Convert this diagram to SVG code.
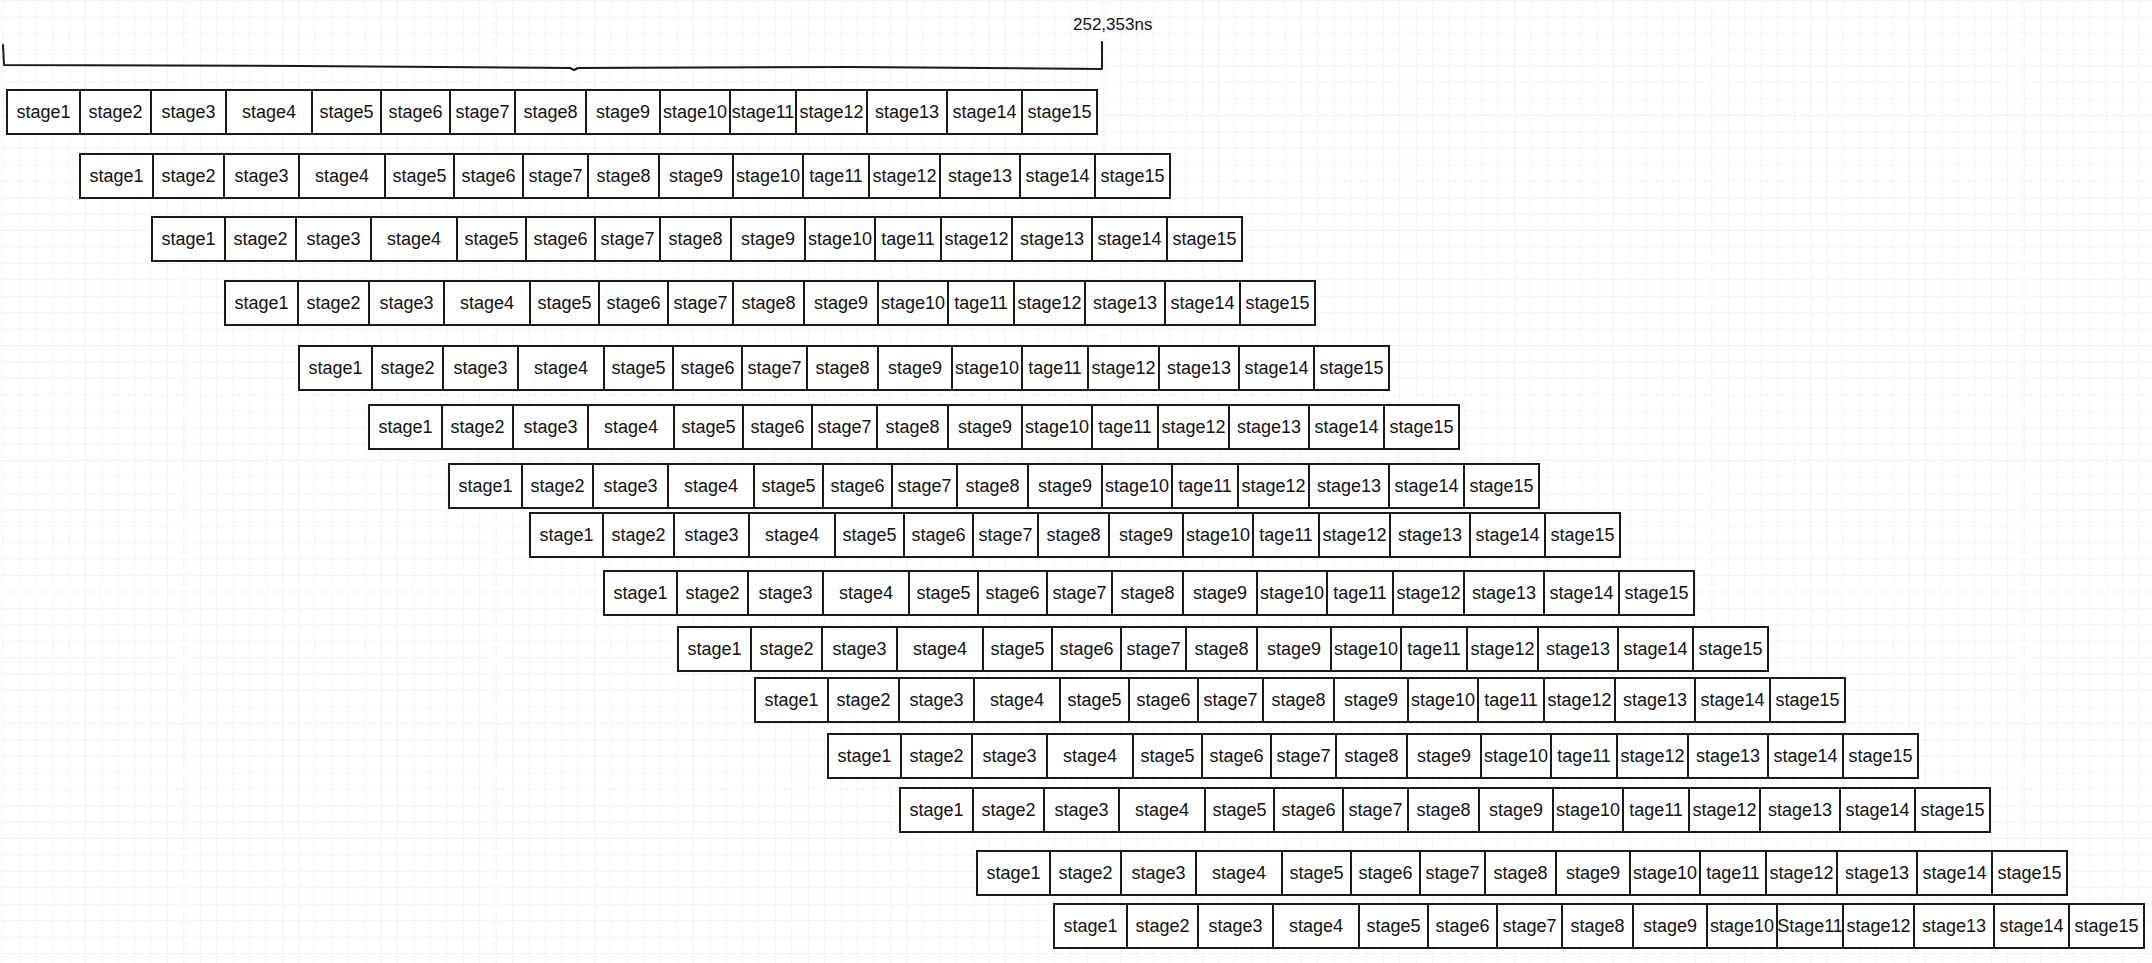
<svg xmlns="http://www.w3.org/2000/svg" width="2152" height="963" viewBox="0 0 2152 963">
<defs>
<pattern id="grid" width="16.43" height="16.43" x="2.7" y="0" patternUnits="userSpaceOnUse">
<path d="M0.5 0V16.43M0 0.5H16.43" fill="none" stroke="#f1f1f1" stroke-width="1"/>
</pattern>
<style>
rect{fill:#fff;stroke:#1a1a1a;stroke-width:2;}
text{font-family:"Liberation Sans",Arial,sans-serif;font-size:18px;fill:#111;text-anchor:middle;}
.lbl{font-size:17px;text-anchor:start;}
.brace{fill:none;stroke:#1a1a1a;stroke-width:2;stroke-linejoin:round;stroke-linecap:round;}
</style>
</defs>
<rect x="0" y="0" width="2152" height="963" style="fill:url(#grid);stroke:none"/>
<g id="connectors">
<path class="brace" d="M3 45 L4 65 L300 66 L570 68 L574 70 L578 68 L850 67 L1102 69 L1102 42"/>
</g>
<g id="label"><text class="lbl" x="1073" y="30">252,353ns</text></g>
<g id="row1" transform="translate(7,90)">
<g id="r1-1"><rect x="0" width="73" height="44"/><text x="36.5" y="28">stage1</text></g>
<g id="r1-2"><rect x="73" width="71" height="44"/><text x="108.5" y="28">stage2</text></g>
<g id="r1-3"><rect x="144" width="75" height="44"/><text x="181.5" y="28">stage3</text></g>
<g id="r1-4"><rect x="219" width="86" height="44"/><text x="262" y="28">stage4</text></g>
<g id="r1-5"><rect x="305" width="69" height="44"/><text x="339.5" y="28">stage5</text></g>
<g id="r1-6"><rect x="374" width="69" height="44"/><text x="408.5" y="28">stage6</text></g>
<g id="r1-7"><rect x="443" width="65" height="44"/><text x="475.5" y="28">stage7</text></g>
<g id="r1-8"><rect x="508" width="71" height="44"/><text x="543.5" y="28">stage8</text></g>
<g id="r1-9"><rect x="579" width="74" height="44"/><text x="616" y="28">stage9</text></g>
<g id="r1-10"><rect x="653" width="70" height="44"/><text x="688" y="28">stage10</text></g>
<g id="r1-11"><rect x="723" width="66" height="44"/><text x="756" y="28">stage11</text></g>
<g id="r1-12"><rect x="789" width="71" height="44"/><text x="824.5" y="28">stage12</text></g>
<g id="r1-13"><rect x="860" width="80" height="44"/><text x="900" y="28">stage13</text></g>
<g id="r1-14"><rect x="940" width="75" height="44"/><text x="977.5" y="28">stage14</text></g>
<g id="r1-15"><rect x="1015" width="75" height="44"/><text x="1052.5" y="28">stage15</text></g>
</g>
<g id="row2" transform="translate(80,154)">
<g id="r2-1"><rect x="0" width="73" height="44"/><text x="36.5" y="28">stage1</text></g>
<g id="r2-2"><rect x="73" width="71" height="44"/><text x="108.5" y="28">stage2</text></g>
<g id="r2-3"><rect x="144" width="75" height="44"/><text x="181.5" y="28">stage3</text></g>
<g id="r2-4"><rect x="219" width="86" height="44"/><text x="262" y="28">stage4</text></g>
<g id="r2-5"><rect x="305" width="69" height="44"/><text x="339.5" y="28">stage5</text></g>
<g id="r2-6"><rect x="374" width="69" height="44"/><text x="408.5" y="28">stage6</text></g>
<g id="r2-7"><rect x="443" width="65" height="44"/><text x="475.5" y="28">stage7</text></g>
<g id="r2-8"><rect x="508" width="71" height="44"/><text x="543.5" y="28">stage8</text></g>
<g id="r2-9"><rect x="579" width="74" height="44"/><text x="616" y="28">stage9</text></g>
<g id="r2-10"><rect x="653" width="70" height="44"/><text x="688" y="28">stage10</text></g>
<g id="r2-11"><rect x="723" width="66" height="44"/><text x="756" y="28">tage11</text></g>
<g id="r2-12"><rect x="789" width="71" height="44"/><text x="824.5" y="28">stage12</text></g>
<g id="r2-13"><rect x="860" width="80" height="44"/><text x="900" y="28">stage13</text></g>
<g id="r2-14"><rect x="940" width="75" height="44"/><text x="977.5" y="28">stage14</text></g>
<g id="r2-15"><rect x="1015" width="75" height="44"/><text x="1052.5" y="28">stage15</text></g>
</g>
<g id="row3" transform="translate(152,217)">
<g id="r3-1"><rect x="0" width="73" height="44"/><text x="36.5" y="28">stage1</text></g>
<g id="r3-2"><rect x="73" width="71" height="44"/><text x="108.5" y="28">stage2</text></g>
<g id="r3-3"><rect x="144" width="75" height="44"/><text x="181.5" y="28">stage3</text></g>
<g id="r3-4"><rect x="219" width="86" height="44"/><text x="262" y="28">stage4</text></g>
<g id="r3-5"><rect x="305" width="69" height="44"/><text x="339.5" y="28">stage5</text></g>
<g id="r3-6"><rect x="374" width="69" height="44"/><text x="408.5" y="28">stage6</text></g>
<g id="r3-7"><rect x="443" width="65" height="44"/><text x="475.5" y="28">stage7</text></g>
<g id="r3-8"><rect x="508" width="71" height="44"/><text x="543.5" y="28">stage8</text></g>
<g id="r3-9"><rect x="579" width="74" height="44"/><text x="616" y="28">stage9</text></g>
<g id="r3-10"><rect x="653" width="70" height="44"/><text x="688" y="28">stage10</text></g>
<g id="r3-11"><rect x="723" width="66" height="44"/><text x="756" y="28">tage11</text></g>
<g id="r3-12"><rect x="789" width="71" height="44"/><text x="824.5" y="28">stage12</text></g>
<g id="r3-13"><rect x="860" width="80" height="44"/><text x="900" y="28">stage13</text></g>
<g id="r3-14"><rect x="940" width="75" height="44"/><text x="977.5" y="28">stage14</text></g>
<g id="r3-15"><rect x="1015" width="75" height="44"/><text x="1052.5" y="28">stage15</text></g>
</g>
<g id="row4" transform="translate(225,281)">
<g id="r4-1"><rect x="0" width="73" height="44"/><text x="36.5" y="28">stage1</text></g>
<g id="r4-2"><rect x="73" width="71" height="44"/><text x="108.5" y="28">stage2</text></g>
<g id="r4-3"><rect x="144" width="75" height="44"/><text x="181.5" y="28">stage3</text></g>
<g id="r4-4"><rect x="219" width="86" height="44"/><text x="262" y="28">stage4</text></g>
<g id="r4-5"><rect x="305" width="69" height="44"/><text x="339.5" y="28">stage5</text></g>
<g id="r4-6"><rect x="374" width="69" height="44"/><text x="408.5" y="28">stage6</text></g>
<g id="r4-7"><rect x="443" width="65" height="44"/><text x="475.5" y="28">stage7</text></g>
<g id="r4-8"><rect x="508" width="71" height="44"/><text x="543.5" y="28">stage8</text></g>
<g id="r4-9"><rect x="579" width="74" height="44"/><text x="616" y="28">stage9</text></g>
<g id="r4-10"><rect x="653" width="70" height="44"/><text x="688" y="28">stage10</text></g>
<g id="r4-11"><rect x="723" width="66" height="44"/><text x="756" y="28">tage11</text></g>
<g id="r4-12"><rect x="789" width="71" height="44"/><text x="824.5" y="28">stage12</text></g>
<g id="r4-13"><rect x="860" width="80" height="44"/><text x="900" y="28">stage13</text></g>
<g id="r4-14"><rect x="940" width="75" height="44"/><text x="977.5" y="28">stage14</text></g>
<g id="r4-15"><rect x="1015" width="75" height="44"/><text x="1052.5" y="28">stage15</text></g>
</g>
<g id="row5" transform="translate(299,346)">
<g id="r5-1"><rect x="0" width="73" height="44"/><text x="36.5" y="28">stage1</text></g>
<g id="r5-2"><rect x="73" width="71" height="44"/><text x="108.5" y="28">stage2</text></g>
<g id="r5-3"><rect x="144" width="75" height="44"/><text x="181.5" y="28">stage3</text></g>
<g id="r5-4"><rect x="219" width="86" height="44"/><text x="262" y="28">stage4</text></g>
<g id="r5-5"><rect x="305" width="69" height="44"/><text x="339.5" y="28">stage5</text></g>
<g id="r5-6"><rect x="374" width="69" height="44"/><text x="408.5" y="28">stage6</text></g>
<g id="r5-7"><rect x="443" width="65" height="44"/><text x="475.5" y="28">stage7</text></g>
<g id="r5-8"><rect x="508" width="71" height="44"/><text x="543.5" y="28">stage8</text></g>
<g id="r5-9"><rect x="579" width="74" height="44"/><text x="616" y="28">stage9</text></g>
<g id="r5-10"><rect x="653" width="70" height="44"/><text x="688" y="28">stage10</text></g>
<g id="r5-11"><rect x="723" width="66" height="44"/><text x="756" y="28">tage11</text></g>
<g id="r5-12"><rect x="789" width="71" height="44"/><text x="824.5" y="28">stage12</text></g>
<g id="r5-13"><rect x="860" width="80" height="44"/><text x="900" y="28">stage13</text></g>
<g id="r5-14"><rect x="940" width="75" height="44"/><text x="977.5" y="28">stage14</text></g>
<g id="r5-15"><rect x="1015" width="75" height="44"/><text x="1052.5" y="28">stage15</text></g>
</g>
<g id="row6" transform="translate(369,405)">
<g id="r6-1"><rect x="0" width="73" height="44"/><text x="36.5" y="28">stage1</text></g>
<g id="r6-2"><rect x="73" width="71" height="44"/><text x="108.5" y="28">stage2</text></g>
<g id="r6-3"><rect x="144" width="75" height="44"/><text x="181.5" y="28">stage3</text></g>
<g id="r6-4"><rect x="219" width="86" height="44"/><text x="262" y="28">stage4</text></g>
<g id="r6-5"><rect x="305" width="69" height="44"/><text x="339.5" y="28">stage5</text></g>
<g id="r6-6"><rect x="374" width="69" height="44"/><text x="408.5" y="28">stage6</text></g>
<g id="r6-7"><rect x="443" width="65" height="44"/><text x="475.5" y="28">stage7</text></g>
<g id="r6-8"><rect x="508" width="71" height="44"/><text x="543.5" y="28">stage8</text></g>
<g id="r6-9"><rect x="579" width="74" height="44"/><text x="616" y="28">stage9</text></g>
<g id="r6-10"><rect x="653" width="70" height="44"/><text x="688" y="28">stage10</text></g>
<g id="r6-11"><rect x="723" width="66" height="44"/><text x="756" y="28">tage11</text></g>
<g id="r6-12"><rect x="789" width="71" height="44"/><text x="824.5" y="28">stage12</text></g>
<g id="r6-13"><rect x="860" width="80" height="44"/><text x="900" y="28">stage13</text></g>
<g id="r6-14"><rect x="940" width="75" height="44"/><text x="977.5" y="28">stage14</text></g>
<g id="r6-15"><rect x="1015" width="75" height="44"/><text x="1052.5" y="28">stage15</text></g>
</g>
<g id="row7" transform="translate(449,464)">
<g id="r7-1"><rect x="0" width="73" height="44"/><text x="36.5" y="28">stage1</text></g>
<g id="r7-2"><rect x="73" width="71" height="44"/><text x="108.5" y="28">stage2</text></g>
<g id="r7-3"><rect x="144" width="75" height="44"/><text x="181.5" y="28">stage3</text></g>
<g id="r7-4"><rect x="219" width="86" height="44"/><text x="262" y="28">stage4</text></g>
<g id="r7-5"><rect x="305" width="69" height="44"/><text x="339.5" y="28">stage5</text></g>
<g id="r7-6"><rect x="374" width="69" height="44"/><text x="408.5" y="28">stage6</text></g>
<g id="r7-7"><rect x="443" width="65" height="44"/><text x="475.5" y="28">stage7</text></g>
<g id="r7-8"><rect x="508" width="71" height="44"/><text x="543.5" y="28">stage8</text></g>
<g id="r7-9"><rect x="579" width="74" height="44"/><text x="616" y="28">stage9</text></g>
<g id="r7-10"><rect x="653" width="70" height="44"/><text x="688" y="28">stage10</text></g>
<g id="r7-11"><rect x="723" width="66" height="44"/><text x="756" y="28">tage11</text></g>
<g id="r7-12"><rect x="789" width="71" height="44"/><text x="824.5" y="28">stage12</text></g>
<g id="r7-13"><rect x="860" width="80" height="44"/><text x="900" y="28">stage13</text></g>
<g id="r7-14"><rect x="940" width="75" height="44"/><text x="977.5" y="28">stage14</text></g>
<g id="r7-15"><rect x="1015" width="75" height="44"/><text x="1052.5" y="28">stage15</text></g>
</g>
<g id="row8" transform="translate(530,513)">
<g id="r8-1"><rect x="0" width="73" height="44"/><text x="36.5" y="28">stage1</text></g>
<g id="r8-2"><rect x="73" width="71" height="44"/><text x="108.5" y="28">stage2</text></g>
<g id="r8-3"><rect x="144" width="75" height="44"/><text x="181.5" y="28">stage3</text></g>
<g id="r8-4"><rect x="219" width="86" height="44"/><text x="262" y="28">stage4</text></g>
<g id="r8-5"><rect x="305" width="69" height="44"/><text x="339.5" y="28">stage5</text></g>
<g id="r8-6"><rect x="374" width="69" height="44"/><text x="408.5" y="28">stage6</text></g>
<g id="r8-7"><rect x="443" width="65" height="44"/><text x="475.5" y="28">stage7</text></g>
<g id="r8-8"><rect x="508" width="71" height="44"/><text x="543.5" y="28">stage8</text></g>
<g id="r8-9"><rect x="579" width="74" height="44"/><text x="616" y="28">stage9</text></g>
<g id="r8-10"><rect x="653" width="70" height="44"/><text x="688" y="28">stage10</text></g>
<g id="r8-11"><rect x="723" width="66" height="44"/><text x="756" y="28">tage11</text></g>
<g id="r8-12"><rect x="789" width="71" height="44"/><text x="824.5" y="28">stage12</text></g>
<g id="r8-13"><rect x="860" width="80" height="44"/><text x="900" y="28">stage13</text></g>
<g id="r8-14"><rect x="940" width="75" height="44"/><text x="977.5" y="28">stage14</text></g>
<g id="r8-15"><rect x="1015" width="75" height="44"/><text x="1052.5" y="28">stage15</text></g>
</g>
<g id="row9" transform="translate(604,571)">
<g id="r9-1"><rect x="0" width="73" height="44"/><text x="36.5" y="28">stage1</text></g>
<g id="r9-2"><rect x="73" width="71" height="44"/><text x="108.5" y="28">stage2</text></g>
<g id="r9-3"><rect x="144" width="75" height="44"/><text x="181.5" y="28">stage3</text></g>
<g id="r9-4"><rect x="219" width="86" height="44"/><text x="262" y="28">stage4</text></g>
<g id="r9-5"><rect x="305" width="69" height="44"/><text x="339.5" y="28">stage5</text></g>
<g id="r9-6"><rect x="374" width="69" height="44"/><text x="408.5" y="28">stage6</text></g>
<g id="r9-7"><rect x="443" width="65" height="44"/><text x="475.5" y="28">stage7</text></g>
<g id="r9-8"><rect x="508" width="71" height="44"/><text x="543.5" y="28">stage8</text></g>
<g id="r9-9"><rect x="579" width="74" height="44"/><text x="616" y="28">stage9</text></g>
<g id="r9-10"><rect x="653" width="70" height="44"/><text x="688" y="28">stage10</text></g>
<g id="r9-11"><rect x="723" width="66" height="44"/><text x="756" y="28">tage11</text></g>
<g id="r9-12"><rect x="789" width="71" height="44"/><text x="824.5" y="28">stage12</text></g>
<g id="r9-13"><rect x="860" width="80" height="44"/><text x="900" y="28">stage13</text></g>
<g id="r9-14"><rect x="940" width="75" height="44"/><text x="977.5" y="28">stage14</text></g>
<g id="r9-15"><rect x="1015" width="75" height="44"/><text x="1052.5" y="28">stage15</text></g>
</g>
<g id="row10" transform="translate(678,627)">
<g id="r10-1"><rect x="0" width="73" height="44"/><text x="36.5" y="28">stage1</text></g>
<g id="r10-2"><rect x="73" width="71" height="44"/><text x="108.5" y="28">stage2</text></g>
<g id="r10-3"><rect x="144" width="75" height="44"/><text x="181.5" y="28">stage3</text></g>
<g id="r10-4"><rect x="219" width="86" height="44"/><text x="262" y="28">stage4</text></g>
<g id="r10-5"><rect x="305" width="69" height="44"/><text x="339.5" y="28">stage5</text></g>
<g id="r10-6"><rect x="374" width="69" height="44"/><text x="408.5" y="28">stage6</text></g>
<g id="r10-7"><rect x="443" width="65" height="44"/><text x="475.5" y="28">stage7</text></g>
<g id="r10-8"><rect x="508" width="71" height="44"/><text x="543.5" y="28">stage8</text></g>
<g id="r10-9"><rect x="579" width="74" height="44"/><text x="616" y="28">stage9</text></g>
<g id="r10-10"><rect x="653" width="70" height="44"/><text x="688" y="28">stage10</text></g>
<g id="r10-11"><rect x="723" width="66" height="44"/><text x="756" y="28">tage11</text></g>
<g id="r10-12"><rect x="789" width="71" height="44"/><text x="824.5" y="28">stage12</text></g>
<g id="r10-13"><rect x="860" width="80" height="44"/><text x="900" y="28">stage13</text></g>
<g id="r10-14"><rect x="940" width="75" height="44"/><text x="977.5" y="28">stage14</text></g>
<g id="r10-15"><rect x="1015" width="75" height="44"/><text x="1052.5" y="28">stage15</text></g>
</g>
<g id="row11" transform="translate(755,678)">
<g id="r11-1"><rect x="0" width="73" height="44"/><text x="36.5" y="28">stage1</text></g>
<g id="r11-2"><rect x="73" width="71" height="44"/><text x="108.5" y="28">stage2</text></g>
<g id="r11-3"><rect x="144" width="75" height="44"/><text x="181.5" y="28">stage3</text></g>
<g id="r11-4"><rect x="219" width="86" height="44"/><text x="262" y="28">stage4</text></g>
<g id="r11-5"><rect x="305" width="69" height="44"/><text x="339.5" y="28">stage5</text></g>
<g id="r11-6"><rect x="374" width="69" height="44"/><text x="408.5" y="28">stage6</text></g>
<g id="r11-7"><rect x="443" width="65" height="44"/><text x="475.5" y="28">stage7</text></g>
<g id="r11-8"><rect x="508" width="71" height="44"/><text x="543.5" y="28">stage8</text></g>
<g id="r11-9"><rect x="579" width="74" height="44"/><text x="616" y="28">stage9</text></g>
<g id="r11-10"><rect x="653" width="70" height="44"/><text x="688" y="28">stage10</text></g>
<g id="r11-11"><rect x="723" width="66" height="44"/><text x="756" y="28">tage11</text></g>
<g id="r11-12"><rect x="789" width="71" height="44"/><text x="824.5" y="28">stage12</text></g>
<g id="r11-13"><rect x="860" width="80" height="44"/><text x="900" y="28">stage13</text></g>
<g id="r11-14"><rect x="940" width="75" height="44"/><text x="977.5" y="28">stage14</text></g>
<g id="r11-15"><rect x="1015" width="75" height="44"/><text x="1052.5" y="28">stage15</text></g>
</g>
<g id="row12" transform="translate(828,734)">
<g id="r12-1"><rect x="0" width="73" height="44"/><text x="36.5" y="28">stage1</text></g>
<g id="r12-2"><rect x="73" width="71" height="44"/><text x="108.5" y="28">stage2</text></g>
<g id="r12-3"><rect x="144" width="75" height="44"/><text x="181.5" y="28">stage3</text></g>
<g id="r12-4"><rect x="219" width="86" height="44"/><text x="262" y="28">stage4</text></g>
<g id="r12-5"><rect x="305" width="69" height="44"/><text x="339.5" y="28">stage5</text></g>
<g id="r12-6"><rect x="374" width="69" height="44"/><text x="408.5" y="28">stage6</text></g>
<g id="r12-7"><rect x="443" width="65" height="44"/><text x="475.5" y="28">stage7</text></g>
<g id="r12-8"><rect x="508" width="71" height="44"/><text x="543.5" y="28">stage8</text></g>
<g id="r12-9"><rect x="579" width="74" height="44"/><text x="616" y="28">stage9</text></g>
<g id="r12-10"><rect x="653" width="70" height="44"/><text x="688" y="28">stage10</text></g>
<g id="r12-11"><rect x="723" width="66" height="44"/><text x="756" y="28">tage11</text></g>
<g id="r12-12"><rect x="789" width="71" height="44"/><text x="824.5" y="28">stage12</text></g>
<g id="r12-13"><rect x="860" width="80" height="44"/><text x="900" y="28">stage13</text></g>
<g id="r12-14"><rect x="940" width="75" height="44"/><text x="977.5" y="28">stage14</text></g>
<g id="r12-15"><rect x="1015" width="75" height="44"/><text x="1052.5" y="28">stage15</text></g>
</g>
<g id="row13" transform="translate(900,788)">
<g id="r13-1"><rect x="0" width="73" height="44"/><text x="36.5" y="28">stage1</text></g>
<g id="r13-2"><rect x="73" width="71" height="44"/><text x="108.5" y="28">stage2</text></g>
<g id="r13-3"><rect x="144" width="75" height="44"/><text x="181.5" y="28">stage3</text></g>
<g id="r13-4"><rect x="219" width="86" height="44"/><text x="262" y="28">stage4</text></g>
<g id="r13-5"><rect x="305" width="69" height="44"/><text x="339.5" y="28">stage5</text></g>
<g id="r13-6"><rect x="374" width="69" height="44"/><text x="408.5" y="28">stage6</text></g>
<g id="r13-7"><rect x="443" width="65" height="44"/><text x="475.5" y="28">stage7</text></g>
<g id="r13-8"><rect x="508" width="71" height="44"/><text x="543.5" y="28">stage8</text></g>
<g id="r13-9"><rect x="579" width="74" height="44"/><text x="616" y="28">stage9</text></g>
<g id="r13-10"><rect x="653" width="70" height="44"/><text x="688" y="28">stage10</text></g>
<g id="r13-11"><rect x="723" width="66" height="44"/><text x="756" y="28">tage11</text></g>
<g id="r13-12"><rect x="789" width="71" height="44"/><text x="824.5" y="28">stage12</text></g>
<g id="r13-13"><rect x="860" width="80" height="44"/><text x="900" y="28">stage13</text></g>
<g id="r13-14"><rect x="940" width="75" height="44"/><text x="977.5" y="28">stage14</text></g>
<g id="r13-15"><rect x="1015" width="75" height="44"/><text x="1052.5" y="28">stage15</text></g>
</g>
<g id="row14" transform="translate(977,851)">
<g id="r14-1"><rect x="0" width="73" height="44"/><text x="36.5" y="28">stage1</text></g>
<g id="r14-2"><rect x="73" width="71" height="44"/><text x="108.5" y="28">stage2</text></g>
<g id="r14-3"><rect x="144" width="75" height="44"/><text x="181.5" y="28">stage3</text></g>
<g id="r14-4"><rect x="219" width="86" height="44"/><text x="262" y="28">stage4</text></g>
<g id="r14-5"><rect x="305" width="69" height="44"/><text x="339.5" y="28">stage5</text></g>
<g id="r14-6"><rect x="374" width="69" height="44"/><text x="408.5" y="28">stage6</text></g>
<g id="r14-7"><rect x="443" width="65" height="44"/><text x="475.5" y="28">stage7</text></g>
<g id="r14-8"><rect x="508" width="71" height="44"/><text x="543.5" y="28">stage8</text></g>
<g id="r14-9"><rect x="579" width="74" height="44"/><text x="616" y="28">stage9</text></g>
<g id="r14-10"><rect x="653" width="70" height="44"/><text x="688" y="28">stage10</text></g>
<g id="r14-11"><rect x="723" width="66" height="44"/><text x="756" y="28">tage11</text></g>
<g id="r14-12"><rect x="789" width="71" height="44"/><text x="824.5" y="28">stage12</text></g>
<g id="r14-13"><rect x="860" width="80" height="44"/><text x="900" y="28">stage13</text></g>
<g id="r14-14"><rect x="940" width="75" height="44"/><text x="977.5" y="28">stage14</text></g>
<g id="r14-15"><rect x="1015" width="75" height="44"/><text x="1052.5" y="28">stage15</text></g>
</g>
<g id="row15" transform="translate(1054,904)">
<g id="r15-1"><rect x="0" width="73" height="44"/><text x="36.5" y="28">stage1</text></g>
<g id="r15-2"><rect x="73" width="71" height="44"/><text x="108.5" y="28">stage2</text></g>
<g id="r15-3"><rect x="144" width="75" height="44"/><text x="181.5" y="28">stage3</text></g>
<g id="r15-4"><rect x="219" width="86" height="44"/><text x="262" y="28">stage4</text></g>
<g id="r15-5"><rect x="305" width="69" height="44"/><text x="339.5" y="28">stage5</text></g>
<g id="r15-6"><rect x="374" width="69" height="44"/><text x="408.5" y="28">stage6</text></g>
<g id="r15-7"><rect x="443" width="65" height="44"/><text x="475.5" y="28">stage7</text></g>
<g id="r15-8"><rect x="508" width="71" height="44"/><text x="543.5" y="28">stage8</text></g>
<g id="r15-9"><rect x="579" width="74" height="44"/><text x="616" y="28">stage9</text></g>
<g id="r15-10"><rect x="653" width="70" height="44"/><text x="688" y="28">stage10</text></g>
<g id="r15-11"><rect x="723" width="66" height="44"/><text x="756" y="28">Stage11</text></g>
<g id="r15-12"><rect x="789" width="71" height="44"/><text x="824.5" y="28">stage12</text></g>
<g id="r15-13"><rect x="860" width="80" height="44"/><text x="900" y="28">stage13</text></g>
<g id="r15-14"><rect x="940" width="75" height="44"/><text x="977.5" y="28">stage14</text></g>
<g id="r15-15"><rect x="1015" width="75" height="44"/><text x="1052.5" y="28">stage15</text></g>
</g>
</svg>
